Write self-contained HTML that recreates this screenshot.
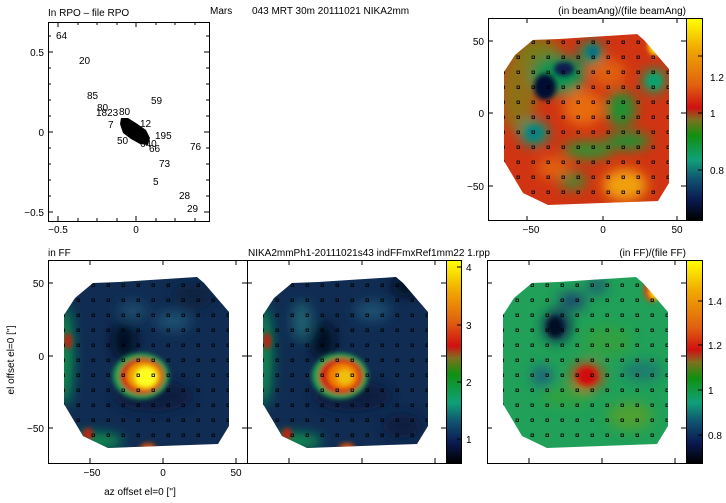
<!DOCTYPE html>
<html><head><meta charset="utf-8"><style>
html,body{margin:0;padding:0;background:#fff;}
svg{display:block;font-family:"Liberation Sans",sans-serif;}
</style></head><body>
<svg width="726" height="503" viewBox="0 0 726 503" xmlns="http://www.w3.org/2000/svg">
<defs>
<clipPath id="poly" clipPathUnits="userSpaceOnUse">
<polygon points="-99,-41 -88,-58 -70,-73 -44,-74 34,-79 41,-73 66,-44 66,70 55,88 -55,92 -80,80 -99,48"/>
</clipPath>
<filter id="bl" x="-50%" y="-50%" width="200%" height="200%"><feGaussianBlur stdDeviation="6"/></filter>
<filter id="bl2" x="-50%" y="-50%" width="200%" height="200%"><feGaussianBlur stdDeviation="2.5"/></filter>
<linearGradient id="cb" x1="0" y1="0" x2="0" y2="1">
<stop offset="0" stop-color="#ffff00"/><stop offset="0.15" stop-color="#f0a800"/>
<stop offset="0.33" stop-color="#e06010"/><stop offset="0.44" stop-color="#d01010"/>
<stop offset="0.5" stop-color="#807020"/><stop offset="0.58" stop-color="#109010"/>
<stop offset="0.7" stop-color="#10a078"/><stop offset="0.8" stop-color="#105070"/>
<stop offset="0.9" stop-color="#0a1a50"/><stop offset="1" stop-color="#000"/>
</linearGradient>
<linearGradient id="cb2" x1="0" y1="0" x2="0" y2="1">
<stop offset="0" stop-color="#ffff00"/><stop offset="0.15" stop-color="#f0a800"/>
<stop offset="0.3" stop-color="#e06010"/><stop offset="0.42" stop-color="#d01010"/>
<stop offset="0.48" stop-color="#807020"/><stop offset="0.56" stop-color="#109010"/>
<stop offset="0.7" stop-color="#10a078"/><stop offset="0.8" stop-color="#105070"/>
<stop offset="0.9" stop-color="#0a1a50"/><stop offset="1" stop-color="#000"/>
</linearGradient>
<pattern id="mk" width="15" height="15" patternUnits="userSpaceOnUse" x="3" y="2">
<rect x="1" y="1" width="2.5" height="2.5" fill="none" stroke="#000" stroke-width="0.8"/>
</pattern>
</defs>

<g font-size="10" fill="#000">
<text x="48" y="16">In RPO – file RPO</text>
<text x="210" y="14">Mars</text>
<text x="252" y="14">043 MRT 30m   20111021 NIKA2mm</text>
<text x="686" y="14" text-anchor="end">(in beamAng)/(file beamAng)</text>
<text x="48" y="256">in FF</text>
<text x="248" y="256">NIKA2mmPh1-20111021s43 indFFmxRef1mm22 1.rpp</text>
<text x="686" y="256" text-anchor="end">(in FF)/(file FF)</text>
<text x="140" y="495" text-anchor="middle">az offset el=0 ['']</text>
<text transform="translate(14,360) rotate(-90)" text-anchor="middle">el offset el=0 ['']</text>
</g>

<rect x="48.5" y="22.5" width="161" height="199" fill="none" stroke="#000"/>
<g stroke="#000" stroke-width="1">
<path d="M58,22v5M58,221v-5M136,22v5M136,221v-5M78,22v3M97,22v3M117,22v3M156,22v3M175,22v3M195,22v3M78,221v-3M97,221v-3M117,221v-3M156,221v-3M175,221v-3M195,221v-3"/>
<path d="M48,52h5M209,52h-5M48,132h5M209,132h-5M48,212h5M209,212h-5M48,36h3M48,68h3M48,84h3M48,100h3M48,116h3M48,148h3M48,164h3M48,180h3M48,196h3M209,36h-3M209,68h-3M209,84h-3M209,100h-3M209,116h-3M209,148h-3M209,164h-3M209,180h-3M209,196h-3"/>
</g>
<g font-size="10" fill="#000">
<text x="44" y="56" text-anchor="end">0.5</text>
<text x="44" y="136" text-anchor="end">0</text>
<text x="44" y="216" text-anchor="end">−0.5</text>
<text x="58" y="233" text-anchor="middle">−0.5</text>
<text x="136" y="233" text-anchor="middle">0</text>
<text x="56" y="39">64</text><text x="79" y="64">20</text><text x="87" y="99">85</text>
<text x="151" y="104">59</text><text x="190" y="150">76</text><text x="159" y="167">73</text>
<text x="153" y="185">5</text><text x="179" y="199">28</text><text x="187" y="212">29</text>
<text x="117" y="144">50</text><text x="155" y="139">195</text><text x="108" y="128">7</text>
<text x="96" y="116">1823</text><text x="97" y="111">80</text><text x="119" y="115">80</text>
<text x="140" y="127">12</text><text x="149" y="152">66</text><text x="140" y="147">640</text>
</g>
<polygon points="121,118 128,118 136,123 146,130 150,138 148,145 140,144 131,139 123,133 120,124" fill="#000"/>

<!-- top-right -->
<g transform="translate(603,113)">
<g clip-path="url(#poly)">
<rect x="-110" y="-100" width="190" height="200" fill="#d03412"/>
<g filter="url(#bl)">
<ellipse cx="-85" cy="-20" rx="18" ry="40" fill="#907018"/>
<ellipse cx="-65" cy="-60" rx="22" ry="15" fill="#7a7a18"/>
<ellipse cx="-45" cy="-38" rx="28" ry="20" fill="#109050"/>
<ellipse cx="-12" cy="-60" rx="12" ry="12" fill="#109060"/>
<ellipse cx="-69" cy="20" rx="15" ry="13" fill="#109070"/>
<ellipse cx="51" cy="-32" rx="12" ry="12" fill="#10a060"/>
<ellipse cx="18" cy="-4" rx="15" ry="18" fill="#209030"/>
<ellipse cx="25" cy="28" rx="22" ry="9" fill="#209030"/>
<ellipse cx="-15" cy="37" rx="25" ry="9" fill="#309030"/>
<ellipse cx="-30" cy="68" rx="14" ry="9" fill="#508030"/>
<ellipse cx="22" cy="72" rx="22" ry="16" fill="#f0a010"/>
<ellipse cx="-20" cy="-5" rx="20" ry="18" fill="#e86c10"/>
<ellipse cx="5" cy="-40" rx="18" ry="14" fill="#e06010"/>
<ellipse cx="-50" cy="55" rx="16" ry="11" fill="#e06010"/>
</g>
<g filter="url(#bl2)">
<ellipse cx="-58" cy="-26" rx="11" ry="13" fill="#051030"/>
<ellipse cx="-39" cy="-44" rx="10" ry="7" fill="#0a1a50"/>
<ellipse cx="-10" cy="-61" rx="6" ry="7" fill="#107080"/>
<ellipse cx="-69" cy="20" rx="8" ry="7" fill="#108080"/>
<ellipse cx="51" cy="-32" rx="7" ry="7" fill="#10a070"/>
<ellipse cx="52" cy="-68" rx="7" ry="10" fill="#ffe000"/>
</g>
<rect x="-110" y="-100" width="190" height="200" fill="url(#mk)"/>
</g></g>

<!-- bottom-left -->
<g transform="translate(163,356)">
<g clip-path="url(#poly)">
<rect x="-110" y="-100" width="190" height="200" fill="#102c52"/>
<g filter="url(#bl)">
<ellipse cx="-98" cy="0" rx="8" ry="50" fill="#109050"/>
<ellipse cx="-70" cy="85" rx="30" ry="8" fill="#109050"/>
<ellipse cx="-39" cy="-15" rx="12" ry="18" fill="#050a20"/>
<ellipse cx="-10" cy="40" rx="40" ry="15" fill="#0a1a40"/>
<ellipse cx="30" cy="-60" rx="20" ry="12" fill="#0a2040"/>
<ellipse cx="10" cy="-35" rx="18" ry="10" fill="#1a5070"/>
<ellipse cx="-30" cy="-45" rx="15" ry="10" fill="#1a4a6a"/>
</g>
<g filter="url(#bl2)">
<ellipse cx="-22" cy="20" rx="28" ry="23" fill="#20a050"/>
<ellipse cx="-21" cy="20" rx="22" ry="18" fill="#d02010"/>
<ellipse cx="-19" cy="20" rx="17" ry="14" fill="#f0a000"/>
<ellipse cx="-17" cy="21" rx="11" ry="10" fill="#ffff20"/>
<ellipse cx="-95" cy="-15" rx="4" ry="8" fill="#c02010"/>
<ellipse cx="-75" cy="78" rx="5" ry="6" fill="#c02010"/>
<ellipse cx="-15" cy="92" rx="8" ry="5" fill="#d05010"/>
</g>
<rect x="-110" y="-100" width="190" height="200" fill="url(#mk)"/>
</g></g>

<!-- bottom-middle -->
<g transform="translate(362,356)">
<g clip-path="url(#poly)">
<rect x="-110" y="-100" width="190" height="200" fill="#102c52"/>
<g filter="url(#bl)">
<ellipse cx="-98" cy="0" rx="8" ry="50" fill="#109050"/>
<ellipse cx="-70" cy="85" rx="30" ry="8" fill="#109050"/>
<ellipse cx="-39" cy="-15" rx="12" ry="18" fill="#050a20"/>
<ellipse cx="-60" cy="-35" rx="10" ry="20" fill="#1a6070"/>
<ellipse cx="-10" cy="40" rx="40" ry="15" fill="#0a1a40"/>
<ellipse cx="45" cy="-70" rx="15" ry="10" fill="#050a20"/>
<ellipse cx="10" cy="-45" rx="18" ry="10" fill="#1a5070"/>
<ellipse cx="40" cy="70" rx="20" ry="12" fill="#0a1a40"/>
</g>
<g filter="url(#bl2)">
<ellipse cx="-22" cy="20" rx="28" ry="23" fill="#20a050"/>
<ellipse cx="-21" cy="20" rx="22" ry="18" fill="#d02010"/>
<ellipse cx="-19" cy="20" rx="15" ry="13" fill="#f08000"/>
<ellipse cx="-17" cy="21" rx="8" ry="8" fill="#f0c010"/>
<ellipse cx="-95" cy="-15" rx="4" ry="8" fill="#c02010"/>
<ellipse cx="-75" cy="78" rx="5" ry="6" fill="#c02010"/>
<ellipse cx="-15" cy="92" rx="8" ry="5" fill="#d05010"/>
</g>
<rect x="-110" y="-100" width="190" height="200" fill="url(#mk)"/>
</g></g>

<!-- bottom-right -->
<g transform="translate(602,356)">
<g clip-path="url(#poly)">
<rect x="-110" y="-100" width="190" height="200" fill="#20a058"/>
<g filter="url(#bl)">
<ellipse cx="-45" cy="-30" rx="14" ry="16" fill="#0a2a50"/>
<ellipse cx="-30" cy="-55" rx="14" ry="9" fill="#1a4a70"/>
<ellipse cx="-5" cy="-70" rx="10" ry="8" fill="#1a5a70"/>
<ellipse cx="-60" cy="20" rx="10" ry="10" fill="#1a6080"/>
<ellipse cx="-15" cy="20" rx="16" ry="14" fill="#d04010"/>
<ellipse cx="-35" cy="40" rx="25" ry="10" fill="#30a040"/>
<ellipse cx="28" cy="60" rx="22" ry="14" fill="#50a030"/>
<ellipse cx="40" cy="15" rx="20" ry="10" fill="#1a7a70"/>
<ellipse cx="5" cy="-15" rx="25" ry="15" fill="#30a040"/>
</g>
<g filter="url(#bl2)">
<ellipse cx="-47" cy="-29" rx="8" ry="10" fill="#050a20"/>
<ellipse cx="-15" cy="20" rx="10" ry="9" fill="#d01010"/>
<ellipse cx="50" cy="-66" rx="8" ry="12" fill="#e04010"/>
<ellipse cx="53" cy="-64" rx="5" ry="7" fill="#ffe000"/>
</g>
<rect x="-110" y="-100" width="190" height="200" fill="url(#mk)"/>
</g></g>

<g fill="none" stroke="#000">
<rect x="488.5" y="18.5" width="198" height="202"/>
<rect x="686.5" y="18.5" width="16" height="202"/>
<rect x="48.5" y="260.5" width="199" height="203"/>
<rect x="247.5" y="260.5" width="199" height="203"/>
<rect x="446.5" y="260.5" width="15" height="203"/>
<rect x="487.5" y="260.5" width="199" height="203"/>
<rect x="686.5" y="260.5" width="16" height="203"/>
</g>
<rect x="687" y="19" width="15" height="201" fill="url(#cb)"/>
<rect x="447" y="261" width="14" height="202" fill="url(#cb2)"/>
<rect x="687" y="261" width="15" height="202" fill="url(#cb)"/>

<g stroke="#000">
<path d="M527,18v5M603,18v5M677,18v5M527,221v-5M603,221v-5M677,221v-5M488,41h5M488,113h5M488,186h5M686,41h-5M686,113h-5M686,186h-5"/>
<path d="M90,260v5M163,260v5M236,260v5M90,463v-5M163,463v-5M236,463v-5M48,283h5M48,356h5M48,428h5M247,283h-5M247,356h-5M247,428h-5"/>
<path d="M289,260v5M362,260v5M435,260v5M289,463v-5M362,463v-5M435,463v-5M247,283h5M247,356h5M247,428h5M446,283h-5M446,356h-5M446,428h-5"/>
<path d="M529,260v5M602,260v5M675,260v5M529,463v-5M602,463v-5M675,463v-5M487,283h5M487,356h5M487,428h5M686,283h-5M686,356h-5M686,428h-5"/>
<path d="M702,56h-4M702,113h-4M702,170h-4M461,267h-4M461,325h-4M461,382h-4M461,439h-4M702,301h-4M702,345h-4M702,390h-4M702,435h-4"/>
</g>
<g font-size="10" fill="#000">
<text x="484" y="45" text-anchor="end">50</text>
<text x="484" y="117" text-anchor="end">0</text>
<text x="484" y="190" text-anchor="end">−50</text>
<text x="531" y="233" text-anchor="middle">−50</text>
<text x="603" y="233" text-anchor="middle">0</text>
<text x="677" y="233" text-anchor="middle">50</text>
<text x="710" y="81">1.2</text><text x="710" y="117">1</text><text x="710" y="174">0.8</text>
<text x="44" y="287" text-anchor="end">50</text>
<text x="44" y="360" text-anchor="end">0</text>
<text x="44" y="432" text-anchor="end">−50</text>
<text x="92" y="476" text-anchor="middle">−50</text>
<text x="163" y="476" text-anchor="middle">0</text>
<text x="236" y="476" text-anchor="middle">50</text>
<text x="466" y="271">4</text><text x="466" y="329">3</text><text x="466" y="386">2</text><text x="466" y="443">1</text>
<text x="708" y="305">1.4</text><text x="708" y="349">1.2</text><text x="708" y="394">1</text><text x="708" y="439">0.8</text>
</g>
</svg>
</body></html>
